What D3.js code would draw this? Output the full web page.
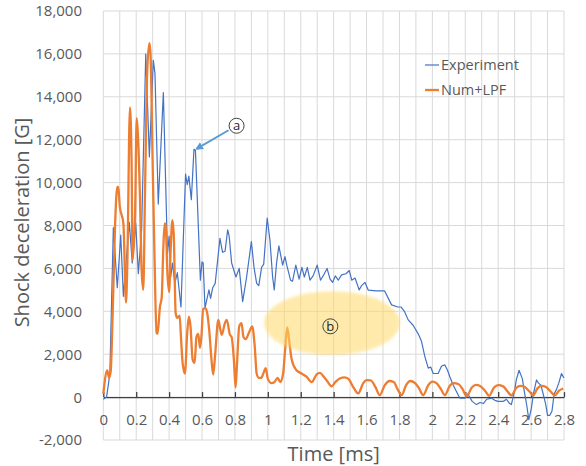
<!DOCTYPE html>
<html><head><meta charset="utf-8">
<script src="https://cdn.jsdelivr.net/npm/d3@7"></script>
<style>
html,body{margin:0;padding:0;background:#fff;}
svg{display:block;font-family:"Open Sans","Noto Sans",sans-serif;}
</style></head>
<body><svg id="chart" width="586" height="466"></svg>
<script>
// ---------- data ----------
const seriesNames = ["Experiment", "Num+LPF"];
const xTickLabels = ["0","0.2","0.4","0.6","0.8","1","1.2","1.4","1.6","1.8","2","2.2","2.4","2.6","2.8"];
const yTickValues = [-2000,0,2000,4000,6000,8000,10000,12000,14000,16000,18000];

const expTime = [0,0.02,0.04,0.061,0.085,0.106,0.122,0.158,0.176,0.197,0.213,0.233,0.258,0.28,0.304,0.314,0.334,0.365,0.39,0.40,0.41,0.42,0.435,0.45,0.472,0.50,0.51,0.52,0.535,0.551,0.56,0.59,0.60,0.607,0.618,0.642,0.652,0.665,0.68,0.709,0.725,0.74,0.756,0.765,0.78,0.806,0.826,0.847,0.871,0.90,0.916,0.932,0.945,0.962,0.975,0.996,1.013,1.029,1.039,1.053,1.067,1.09,1.104,1.115,1.138,1.15,1.17,1.19,1.207,1.222,1.24,1.256,1.275,1.30,1.32,1.34,1.36,1.378,1.394,1.41,1.428,1.448,1.475,1.495,1.51,1.53,1.555,1.57,1.59,1.61,1.66,1.71,1.752,1.79,1.81,1.83,1.853,1.883,1.914,1.934,1.954,1.975,1.99,2.005,2.035,2.056,2.076,2.092,2.106,2.127,2.147,2.167,2.197,2.215,2.242,2.268,2.29,2.31,2.33,2.36,2.38,2.40,2.43,2.45,2.47,2.48,2.50,2.51,2.527,2.547,2.558,2.575,2.586,2.60,2.614,2.633,2.645,2.66,2.67,2.688,2.70,2.714,2.727,2.74,2.754,2.768,2.785,2.795,2.8];
const expValue = [-100,0,1100,7900,5100,7550,4700,8150,6250,8100,5750,7800,16000,11200,15700,15100,9000,14200,6700,7500,5600,6250,5300,5800,4200,10400,9900,10300,9200,11550,11500,5450,6300,6250,4150,5000,4600,5100,5300,7400,6750,6800,7800,7500,6250,5600,6000,4450,5600,7250,6050,5300,5200,6050,6200,8350,7300,5600,5000,6250,7050,6150,6550,6150,5450,5400,6150,5500,6050,5600,6050,5450,5650,6150,5450,5700,6000,5500,5350,5650,5450,5700,5750,5900,5450,5550,5000,5200,5350,4990,4950,4950,4300,4200,4200,4000,3600,3350,2950,2600,1900,1350,1400,1100,1100,1450,1500,1250,950,550,250,-50,-50,150,-200,-350,-250,-300,-100,-50,-150,-200,-200,-100,-300,-350,300,800,1250,850,300,-450,-1050,-600,150,800,650,550,250,-300,-850,-850,-650,150,350,650,1100,950,900];

const numTime = [0,0.024,0.035,0.045,0.057,0.071,0.085,0.091,0.10,0.122,0.138,0.146,0.162,0.172,0.178,0.193,0.203,0.21,0.223,0.233,0.243,0.253,0.267,0.28,0.287,0.30,0.31,0.324,0.33,0.344,0.355,0.365,0.373,0.38,0.389,0.40,0.41,0.42,0.428,0.44,0.45,0.464,0.472,0.482,0.496,0.51,0.52,0.53,0.543,0.555,0.566,0.577,0.588,0.597,0.607,0.62,0.632,0.644,0.658,0.668,0.68,0.699,0.71,0.72,0.739,0.75,0.77,0.78,0.794,0.804,0.813,0.826,0.84,0.852,0.865,0.885,0.905,0.92,0.932,0.945,0.96,0.975,0.987,1.0,1.023,1.04,1.06,1.075,1.093,1.105,1.118,1.134,1.145,1.174,1.205,1.235,1.266,1.296,1.317,1.34,1.357,1.388,1.41,1.44,1.465,1.49,1.52,1.549,1.58,1.60,1.625,1.655,1.68,1.71,1.74,1.765,1.79,1.813,1.84,1.865,1.895,1.92,1.944,1.975,2.0,2.025,2.05,2.076,2.105,2.13,2.16,2.185,2.208,2.24,2.265,2.29,2.32,2.345,2.375,2.40,2.43,2.455,2.48,2.51,2.535,2.56,2.59,2.612,2.64,2.665,2.69,2.72,2.744,2.77,2.795];
const numValue = [150,1250,900,1200,3900,7900,9800,9800,8900,8100,4400,6200,13500,10900,6400,8500,13000,12300,9300,5900,5000,9300,15200,16500,16000,10900,7000,3000,2950,4200,4650,7000,8100,7900,5900,4900,7000,8250,7600,3900,3700,3800,2800,1600,1100,3000,3750,3300,1750,1600,2800,2950,2300,2900,4100,4150,3900,3100,1700,1050,2000,3600,3200,2900,3450,3600,2900,2800,1700,450,1600,3300,3450,2800,2700,3000,3300,2400,1100,900,900,1150,1350,850,650,700,900,700,1100,2200,3250,2350,1750,1250,1100,950,700,1050,1130,950,790,500,700,880,920,850,450,170,650,790,780,450,90,550,750,700,350,90,550,750,650,400,90,550,720,650,400,90,520,650,600,350,40,450,570,520,300,60,450,560,500,280,80,430,520,480,260,80,420,520,470,250,80,300,400];

// ---------- layout ----------
const W = 586, H = 466;
const plot = {left: 103.3, right: 564, top: 11, bottom: 440};
const svg = d3.select("#chart");
const x = d3.scaleLinear().domain([0, 2.8]).range([plot.left, plot.right]);
const y = d3.scaleLinear().domain([-2000, 18000]).range([plot.bottom, plot.top]);
const textColor = "#595959";
const gridColor = "#d9d9d9";
const fmt = d3.formatLocale({decimal: ".", thousands: ",", grouping: [3], currency: ["", ""], minus: "-"}).format(",");

// gridlines
const vGrid = d3.range(0, 29).map(i => i / 10);
svg.append("g").selectAll("line").data(vGrid).join("line")
  .attr("x1", d => x(d)).attr("x2", d => x(d))
  .attr("y1", plot.top).attr("y2", plot.bottom)
  .attr("stroke", gridColor).attr("stroke-width", 1);
svg.append("g").selectAll("line").data(yTickValues).join("line")
  .attr("x1", plot.left).attr("x2", plot.right)
  .attr("y1", d => y(d)).attr("y2", d => y(d))
  .attr("stroke", gridColor).attr("stroke-width", 1);

// y tick labels
svg.append("g").selectAll("text").data(yTickValues).join("text")
  .attr("x", 82).attr("y", d => y(d)).attr("dy", "0.36em")
  .attr("text-anchor", "end").attr("fill", textColor)
  .style("font-size", "15px")
  .text(d => fmt(d));

// x axis at zero
const xAxis = d3.axisBottom(x)
  .tickValues(xTickLabels.map(Number))
  .tickSize(0).tickPadding(0)
  .tickFormat((d, i) => xTickLabels[i]);
const gx = svg.append("g").attr("transform", `translate(0,${y(0)})`).call(xAxis);
gx.select(".domain").attr("stroke", "#404040").attr("stroke-width", 1.3);
gx.selectAll(".tick line").remove();
gx.selectAll(".tick").append("line")
  .attr("y1", -5).attr("y2", 0).attr("stroke", "#404040").attr("stroke-width", 1.3);
gx.selectAll(".tick text")
  .attr("y", 0).attr("dy", 0)
  .attr("transform", `translate(0,${425 - y(0)})`)
  .attr("fill", textColor)
  .style("font-size", "15px").style("font-family", "'Open Sans','Noto Sans',sans-serif");

// axis titles
svg.append("text").attr("x", (plot.left + plot.right) / 2).attr("y", 461)
  .attr("text-anchor", "middle").attr("fill", textColor).style("font-size", "20px")
  .text("Time [ms]");
svg.append("text").attr("transform", `translate(29,${(plot.top + plot.bottom) / 2 - 3}) rotate(-90)`)
  .attr("text-anchor", "middle").attr("fill", textColor).style("font-size", "20px")
  .text("Shock deceleration [G]");

// series lines
const expData = expTime.map((t, i) => [t, expValue[i]]);
const numData = numTime.map((t, i) => [t, numValue[i]]);
svg.append("path").datum(expData)
  .attr("d", d3.line().x(d => x(d[0])).y(d => y(d[1])).curve(d3.curveLinear))
  .attr("fill", "none").attr("stroke", "#4472c4").attr("stroke-width", 1.2)
  .attr("stroke-linejoin", "round");
svg.append("path").datum(numData)
  .attr("d", d3.line().x(d => x(d[0])).y(d => y(d[1])).curve(d3.curveMonotoneX))
  .attr("fill", "none").attr("stroke", "#ed7d31").attr("stroke-width", 2.3)
  .attr("stroke-linejoin", "round");

// ellipse (b)
const defs = svg.append("defs");
defs.append("filter").attr("id", "soft").attr("x", "-20%").attr("y", "-20%").attr("width", "140%").attr("height", "140%")
  .append("feGaussianBlur").attr("stdDeviation", 1.5);
const ellC = [1.39, 3450];
svg.append("ellipse")
  .attr("cx", x(ellC[0])).attr("cy", y(ellC[1]))
  .attr("rx", x(0.413) - x(0)).attr("ry", y(0) - y(1490))
  .attr("fill", "#ffd966").attr("fill-opacity", 0.55).attr("filter", "url(#soft)");
const bPos = [1.38, 3300];
svg.append("circle").attr("cx", x(bPos[0])).attr("cy", y(bPos[1])).attr("r", 7.5)
  .attr("fill", "none").attr("stroke", "#404040").attr("stroke-width", 1);
svg.append("text").attr("x", x(bPos[0])).attr("y", y(bPos[1])).attr("dy", "0.35em")
  .attr("text-anchor", "middle").attr("fill", "#262626").style("font-size", "13px").text("b");

// annotation (a)
const aPos = [0.81, 12650];
const aTip = [0.56, 11550];
defs.append("marker").attr("id", "arr").attr("viewBox", "0 0 10 10").attr("refX", 8).attr("refY", 5)
  .attr("markerWidth", 4).attr("markerHeight", 4).attr("orient", "auto")
  .append("path").attr("d", "M0,0 L10,5 L0,10 z").attr("fill", "#5b9bd5");
svg.append("line")
  .attr("x1", x(aPos[0]) - 8).attr("y1", y(aPos[1]) + 4.5)
  .attr("x2", x(aTip[0]) + 1).attr("y2", y(aTip[1]) - 0.5)
  .attr("stroke", "#5b9bd5").attr("stroke-width", 2).attr("marker-end", "url(#arr)");
svg.append("circle").attr("cx", x(aPos[0])).attr("cy", y(aPos[1])).attr("r", 7.5)
  .attr("fill", "#fff").attr("stroke", "#404040").attr("stroke-width", 1);
svg.append("text").attr("x", x(aPos[0])).attr("y", y(aPos[1])).attr("dy", "0.35em")
  .attr("text-anchor", "middle").attr("fill", "#262626").style("font-size", "13px").text("a");

// legend
const legColors = ["#4472c4", "#ed7d31"];
const legW = [1.2, 2.3];
const leg = svg.append("g").selectAll("g").data(seriesNames).join("g")
  .attr("transform", (d, i) => `translate(425,${65 + i * 25})`);
leg.append("line").attr("x1", 0).attr("x2", 14).attr("y1", 0).attr("y2", 0)
  .attr("stroke", (d, i) => legColors[i]).attr("stroke-width", (d, i) => legW[i]);
leg.append("text").attr("x", 16).attr("y", 0).attr("dy", "0.35em")
  .attr("fill", textColor).style("font-size", "14.5px").text(d => d);
</script></body></html>
